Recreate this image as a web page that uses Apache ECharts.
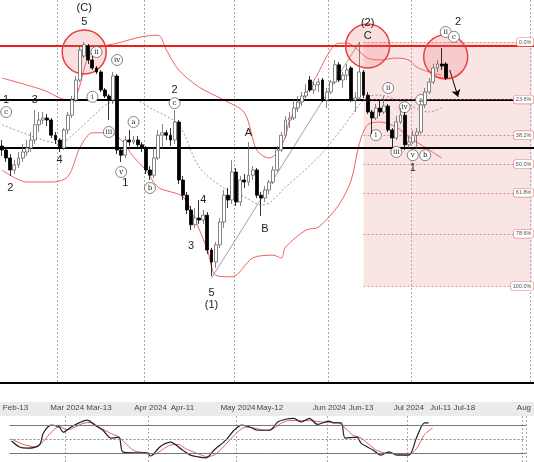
<!DOCTYPE html>
<html>
<head>
<meta charset="utf-8">
<script src="https://cdn.jsdelivr.net/npm/echarts@6/dist/echarts.min.js"></script>
<style>html,body{margin:0;padding:0;background:#fff}#main{width:534px;height:462px}</style>
</head>
<body>
<div id="main"></div>
<script>
// trading-day slots on the x axis, only some carry a label
var dayCount = 130;
var tickIndex = [1, 14, 22, 35, 43, 57, 65, 80, 88, 100, 108, 114, 129];
var tickText = ['Feb-13', 'Mar 2024', 'Mar-13', 'Apr 2024', 'Apr-11', 'May 2024', 'May-12', 'Jun 2024', 'Jun-13', 'Jul 2024', 'Jul-11', 'Jul-18', 'Aug'];
var monthIndex = [14, 35, 57, 80, 100, 129];

// [open, close, low, high]
var candles = [
  [63.5,62.5,61,65],[62.5,60.5,59.5,63],[60.5,57.5,56,61.5],[57.5,58.8,56.5,60],[58.8,60.5,58,62],
  [60.5,62,59.5,64],[62,63,61,65],[63,65,62,67],[65,68.8,64,72.5],[68.8,70,67,72],
  [70,70.5,69,72],[70.5,70,68.5,71.5],[70,66.2,65.5,70.5],[66.2,65,64,67],[65,63,62,65.5],
  [63,67.5,62.5,68],[67.5,71.2,66.5,72],[71.2,75,70.5,76],[75,80,74.5,81],[80,87.5,79.5,88.5],
  [86,88.8,85.5,89.5],[88.5,85,84,89],[85,83,82.5,86],[83,82,81.5,83.5],[82,77.5,77,82.5],
  [77.5,76,75.5,78],[76,75,70,76.5],[75,81,74,82],[81,62.5,61.5,81.5],[62.5,61.2,59.5,63],
  [61.2,65,60.5,66],[65,64.5,63.5,67.5],[64.5,65,64,66],[65,63.8,63,66],[63.8,63,62,64.5],
  [63,57.5,56.5,63.5],[57.5,56.2,55,58.5],[56.2,60.5,55.5,63],[60.5,66.2,60,67.5],[66.2,66.8,63,69],
  [66.8,66.2,65,67.5],[66.2,65,63.5,68],[65,69.5,64,72.5],[69.5,55,54,70],[55,51.2,50,56],
  [51.2,47.5,46.5,52],[47.5,43.8,42.5,48.5],[43.8,45.5,43,48],[45.5,45,44,50],[45,46.2,44,47.5],
  [46.2,37.5,36.5,47],[37.5,34.5,31,38],[34.5,38.8,33,39.5],[38.8,44.5,38,45.5],[44.5,51.2,43,52.5],
  [51.2,50,48,53],[50,57,49,60],[57,49.5,48.5,58],[49.5,55,48.5,56],[55,54.5,53,56.5],
  [54.5,56.2,53.5,64.5],[56.2,57.5,55,58.5],[57.5,51.2,50.5,58],[51.2,50.5,46,52],[50.5,52.5,49.5,53.5],
  [52.5,54.5,51.5,55],[54.5,57.5,54,58.5],[57.5,62.5,57,63.5],[62.5,66.2,62,67],[66.2,70,65.5,71],
  [70,70.5,68,72],[70.5,73,70,75],[73,74.5,72,76],[74.5,76,73.5,77],[76,77,75,79],
  [80,77.5,77,81],[77.5,78.8,76.5,79.5],[78.8,79.5,77,80.5],[80,75,74.5,80.5],[75,77,73,78],
  [77,79.5,76.5,80],[79.5,83.8,79,85],[83.8,80,79.5,84.5],[80,81.2,78,82],[81.2,82.5,80,84],
  [83,75,74.5,83.5],[75,75.5,72,77],[75.5,82,75,89.5],[82,76.2,75.5,82.5],[76.2,72,71.5,77],
  [72,70.5,66.5,72.5],[70.5,73,70,74],[73,72,71,75],[72,73.5,71.5,76],[73.5,67.5,67,74],
  [67.5,65.5,63,68],[65.5,69.5,65,71],[69.5,71.2,69,73],[71.2,63.8,62.5,72],[63.8,64.5,63,66],
  [64.5,66.2,64,67.5],[66.2,67,63,68],[67,73.8,66.5,75],[73.8,77,73,78],[77,79.5,76.5,80.5],
  [79.5,83,79,84],[83,84,82,85],[84,83.5,82.5,88],[84,80.5,80,84.5]
];

var bandUpper = [[0,80.5],[10,77.5],[16,75],[18,75.8],[21,85.8],[24,88.2],[28,89.2],[34,90.8],[38,91.2],[40,87.5],
  [43,82.5],[48,78.2],[54,75],[59,71.8],[62,62.5],[65,60.5],[67,61.8],[69,65.8],[70,70],[72,73.2],[76,80],
  [82,89.2],[84,89.2],[89,85.5],[92,85],[96,85.5],[99,85],[101,83.2],[104,82],[107,81.2]];
var bandLower = [[0,57.5],[6,54.5],[12,54.5],[16,55.8],[19,63.2],[22,66.8],[26,66.8],[29,65],[32,60.8],[35,57.5],
  [38,53.2],[44,50.8],[47,45],[50,37.5],[52,31.2],[56,30.8],[61,35.5],[66,36.2],[68,35.5],[69,38.2],[74,42.5],
  [77,43.2],[82,48.8],[85,55],[87,64.2],[89,68.8],[92,69.5],[96,68.2],[99,65.8],[104,62.5],[107,60.5]];
var bandMiddle = [[0,68.8],[10,65],[14,64.2],[18,67],[22,70.8],[26,74.2],[32,75],[37,72.5],[43,68.8],[48,58.2],
  [54,53],[59,50.8],[63,48.8],[65,49.2],[69,53.2],[73,56.8],[78,61.8],[83,68.2],[89,75.8],[92,76.2],[98,74.2],
  [104,72],[107,73]];

var redLevel = 88.5;
var blackLevels = [75, 63];
var fibTop = 89.5, fibBottom = 28.5, fibStart = 88;
var fibRatios = [0, 0.236, 0.382, 0.5, 0.618, 0.786, 1];
var fibText = ['0.0%', '23.6%', '38.2%', '50.0%', '61.8%', '78.6%', '100.0%'];

var trendLine = [[51, 30.5], [87, 89.5]];
var arrowLine = [[108.8, 82.5], [111.2, 75.8]];

var bigCircles = [[20.2, 87], [89.3, 88.5], [107.8, 85.8]];
// [index, price, text, circled]
var waveLabels = [
  [19.5,98,'(C)',0],[19.5,94.5,'5',0],[1,75,'1',0],[1,72,'c',1],[8.3,75,'3',0],[2.2,53,'2',0],[14.4,60,'4',0],
  [21.5,75.8,'i',1],[23.4,87,'ii',1],[28.3,85,'iv',1],[26.3,67,'iii',1],[29.3,57,'v',1],[29.5,54.2,'1',0],
  [31.7,69.5,'a',1],[35.8,53,'b',1],[42,77.5,'2',0],[42,74.2,'c',1],[60.2,66.8,'A',0],[49,50,'4',0],
  [46.3,38.5,'3',0],[50.7,26.8,'5',0],[50.7,23.8,'(1)',0],[64,42.8,'B',0],[89,94.2,'(2)',0],[88.8,91,'C',0],
  [90.7,66.2,'i',1],[93.6,78,'ii',1],[95.8,62,'iii',1],[97.8,73.2,'iv',1],[99.5,61.2,'v',1],[99.7,58,'1',0],
  [103,61.2,'b',1],[102,75,'a',1],[110.5,94.5,'2',0],[107.8,92,'ii',1],[109.5,90.8,'c',1]
];

var stochK = [[0,45.6],[2,32.6],[4,30],[7,37],[8,63],[10,80],[12,76],[13,65],[15,76],[17,85],[19,91],[21,80],
  [23,69],[25,52],[27,54],[28,22],[31,20],[34,20],[35,13],[37,30],[38,37],[40,43],[43,26],[45,15],[47,11],
  [49,9],[51,26],[54,48],[56,69],[58,80],[60,76],[62,69],[65,69],[67,87],[69,93],[71,95],[73,87],[75,95],
  [77,82],[80,89],[81,85],[83,85],[84,52],[87,54],[88,41],[91,26],[93,15],[95,22],[97,15],[100,15],
  [102,54],[104,85],[105,85]];
var stochD = [[0,50],[3,38],[6,33],[8,45],[10,65],[12,77],[14,70],[16,76],[18,84],[20,86],[22,76],[25,62],
  [27,54],[29,38],[31,24],[34,20],[36,17],[38,27],[40,37],[42,38],[44,28],[47,18],[49,12],[51,15],[53,30],
  [55,48],[57,66],[59,76],[61,74],[64,69],[66,73],[68,85],[70,90],[73,90],[75,90],[77,88],[80,86],[82,86],
  [84,74],[86,58],[88,52],[90,38],[92,25],[94,20],[96,19],[98,16],[100,16],[102,30],[104,60],[106,74]];

var days = [];
for (var i = 0; i < dayCount; i++) days.push('d' + i);
var tickLabel = function (value, idx) {
  var k = tickIndex.indexOf(idx);
  return k < 0 ? '' : tickText[k];
};
var font = 'Liberation Sans';

var markPoints = [];
bigCircles.forEach(function (c) {
  markPoints.push({coord: c, symbol: 'circle', symbolSize: 44,
    itemStyle: {color: 'rgba(235,110,110,0.22)', borderColor: '#e8403c', borderWidth: 1.5}, label: {show: false}});
});
waveLabels.forEach(function (w) {
  markPoints.push({coord: [w[0], w[1]], symbol: 'circle', symbolSize: w[3] ? 11 : 1,
    itemStyle: w[3] ? {color: '#fff', borderColor: '#666', borderWidth: 0.8} : {color: 'rgba(0,0,0,0)'},
    label: {show: true, formatter: w[2], position: 'inside', color: '#222',
      fontSize: w[3] ? 7 : 11, fontFamily: w[3] ? 'DejaVu Serif' : font}});
});
fibRatios.forEach(function (r, k) {
  markPoints.push({coord: [dayCount - 1, fibTop - (fibTop - fibBottom) * r], symbol: 'circle', symbolSize: 1,
    itemStyle: {color: 'rgba(0,0,0,0)'},
    label: {show: true, formatter: fibText[k], position: 'left', distance: -2, fontSize: 5.5, color: '#555',
      fontFamily: font, backgroundColor: '#fff', borderColor: '#e08080', borderWidth: 0.6, borderRadius: 2, padding: [1, 2]}});
});

var fibLines = fibRatios.map(function (r) {
  var v = fibTop - (fibTop - fibBottom) * r;
  return [{coord: [fibStart, v]}, {coord: [dayCount - 1, v]}];
});

var chart = echarts.init(document.getElementById('main'));
chart.setOption({
  animation: false,
  textStyle: {fontFamily: font},
  graphic: [{type: 'rect', shape: {x: 0, y: 402, width: 534, height: 14}, style: {fill: '#ebebeb'}, z: -1}],
  grid: [
    {left: 0, right: 0, top: 0, height: 383},
    {left: 0, right: 0, top: 416, height: 46}
  ],
  xAxis: [
    {type: 'category', data: days, gridIndex: 0, axisLabel: {show: false}, axisTick: {show: false},
      axisLine: {lineStyle: {color: '#000', width: 2}},
      splitLine: {show: true, interval: function (i) { return monthIndex.indexOf(i) >= 0; },
        lineStyle: {color: '#aaa', type: [2, 2], width: 1}}},
    {type: 'category', data: days, gridIndex: 1, position: 'top',
      axisLabel: {interval: 0, formatter: tickLabel, fontSize: 8, color: '#444', margin: 4},
      axisTick: {interval: function (i) { return tickIndex.indexOf(i) >= 0; }, length: 3, lineStyle: {color: '#666'}},
      axisLine: {lineStyle: {color: '#888'}},
      splitLine: {show: true, interval: function (i) { return monthIndex.indexOf(i) >= 0; },
        lineStyle: {color: '#aaa', type: [2, 2], width: 1}}}
  ],
  yAxis: [
    {type: 'value', gridIndex: 0, min: 4.25, max: 100, show: false},
    {type: 'value', gridIndex: 1, min: 0, max: 100, show: false}
  ],
  series: [
    {type: 'candlestick', data: candles, barWidth: 3.4, z: 5,
      itemStyle: {color: '#fff', color0: '#000', borderColor: '#666', borderColor0: '#000', borderWidth: 0.8},
      markArea: {silent: true, itemStyle: {color: 'rgba(236,160,160,0.28)'},
        data: [[{coord: [fibStart, fibTop]}, {coord: [dayCount - 1, fibBottom]}]]},
      markLine: {silent: true, symbol: 'none', label: {show: false},
        data: [
          {yAxis: redLevel, lineStyle: {color: '#e8201c', width: 2, type: 'solid'}},
          {yAxis: blackLevels[0], lineStyle: {color: '#000', width: 2, type: 'solid'}},
          {yAxis: blackLevels[1], lineStyle: {color: '#000', width: 2, type: 'solid'}}
        ]},
      markPoint: {silent: true, data: markPoints}
    },
    {type: 'line', data: bandUpper, symbol: 'none', smooth: 0.3, lineStyle: {color: '#f06060', width: 1}, z: 3},
    {type: 'line', data: bandLower, symbol: 'none', smooth: 0.3, lineStyle: {color: '#f06060', width: 1}, z: 3},
    {type: 'line', data: bandMiddle, symbol: 'none', smooth: 0.3, lineStyle: {color: '#999', width: 1, type: [2, 2]}, z: 3,
      markLine: {silent: true, symbol: 'none', label: {show: false},
        lineStyle: {color: '#e07070', width: 0.8, type: [2, 2]}, data: fibLines}},
    {type: 'line', data: trendLine, symbol: 'none', lineStyle: {color: '#888', width: 0.8}, z: 4,
      markLine: {silent: true, symbol: ['none', 'arrow'], symbolSize: 7, label: {show: false},
        lineStyle: {color: '#000', width: 1, type: 'solid'},
        data: [[{coord: arrowLine[0]}, {coord: arrowLine[1]}]]}},
    {type: 'line', xAxisIndex: 1, yAxisIndex: 1, data: stochD, symbol: 'none', smooth: 0.3,
      lineStyle: {color: '#e06060', width: 1},
      markLine: {silent: true, symbol: 'none', label: {show: false},
        data: [
          {yAxis: 80, lineStyle: {color: '#777', width: 1, type: 'solid'}},
          {yAxis: 50, lineStyle: {color: '#888', width: 1, type: [2, 2]}},
          {yAxis: 20, lineStyle: {color: '#777', width: 1, type: 'solid'}}
        ]}},
    {type: 'line', xAxisIndex: 1, yAxisIndex: 1, data: stochK, symbol: 'none', smooth: 0.3,
      lineStyle: {color: '#222', width: 1.2}}
  ]
});
</script>
</body>
</html>
